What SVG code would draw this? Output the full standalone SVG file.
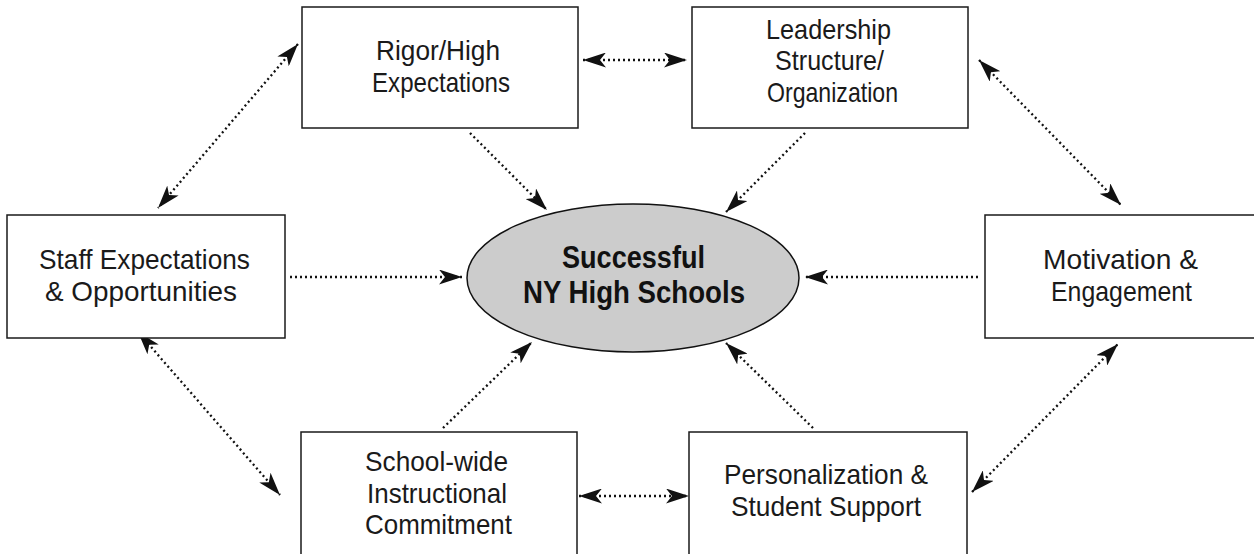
<svg xmlns="http://www.w3.org/2000/svg" width="1254" height="554" viewBox="0 0 1254 554">
  <style>
    .box { fill: #ffffff; stroke: #1a1a1a; stroke-width: 1.5; }
    .lbl { font-family: "Liberation Sans", Arial, sans-serif; font-size: 28px; fill: #1a1a1a; }
    .hub { font-family: "Liberation Sans", Arial, sans-serif; font-size: 31px; font-weight: bold; fill: #111111; }
    .link { fill: none; stroke: #111111; stroke-width: 2.3; stroke-dasharray: 2 3; }
  </style>
  <defs>
    <marker id="head" viewBox="0 0 23 15" refX="23" refY="7.5" markerWidth="23" markerHeight="15" markerUnits="userSpaceOnUse" orient="auto-start-reverse">
      <path d="M0,0 L23,7.5 L0,15 L6,7.5 Z" fill="#111111"/>
    </marker>
  </defs>

  <rect width="1254" height="554" fill="#ffffff"/>

  <g id="connectors">
    <!-- two-way links between neighbouring factors -->
    <line class="link" x1="583" y1="60" x2="687" y2="60" marker-start="url(#head)" marker-end="url(#head)"/>
    <line class="link" x1="579" y1="496" x2="689" y2="496" marker-start="url(#head)" marker-end="url(#head)"/>
    <line class="link" x1="298" y1="44" x2="158" y2="208" marker-start="url(#head)" marker-end="url(#head)"/>
    <line class="link" x1="979" y1="60" x2="1121" y2="205" marker-start="url(#head)" marker-end="url(#head)"/>
    <line class="link" x1="138" y1="332" x2="280" y2="495" marker-start="url(#head)" marker-end="url(#head)"/>
    <line class="link" x1="972" y1="492" x2="1118" y2="344" marker-start="url(#head)" marker-end="url(#head)"/>
    <!-- factors feeding the centre -->
    <line class="link" x1="470" y1="133" x2="547" y2="210" marker-end="url(#head)"/>
    <line class="link" x1="805" y1="133" x2="726" y2="212" marker-end="url(#head)"/>
    <line class="link" x1="290" y1="277" x2="462" y2="277" marker-end="url(#head)"/>
    <line class="link" x1="978" y1="277" x2="805" y2="277" marker-end="url(#head)"/>
    <line class="link" x1="443" y1="428" x2="532" y2="342" marker-end="url(#head)"/>
    <line class="link" x1="813" y1="428" x2="726" y2="343" marker-end="url(#head)"/>
  </g>

  <g id="hub">
    <ellipse cx="633" cy="278" rx="166" ry="74" fill="#cccccc" stroke="#111111" stroke-width="1.5"/>
    <text class="hub" x="562" y="268" textLength="143" lengthAdjust="spacingAndGlyphs">Successful</text>
    <text class="hub" x="523" y="303" textLength="222" lengthAdjust="spacingAndGlyphs">NY High Schools</text>
  </g>

  <g id="rigor">
    <rect class="box" x="302" y="7" width="276" height="121"/>
    <text class="lbl" x="376" y="60" textLength="124" lengthAdjust="spacingAndGlyphs">Rigor/High</text>
    <text class="lbl" x="372" y="92" textLength="138" lengthAdjust="spacingAndGlyphs">Expectations</text>
  </g>

  <g id="leadership">
    <rect class="box" x="692" y="7" width="276" height="121"/>
    <text class="lbl" x="766" y="38.5" textLength="125" lengthAdjust="spacingAndGlyphs">Leadership</text>
    <text class="lbl" x="775" y="70" textLength="109" lengthAdjust="spacingAndGlyphs">Structure/</text>
    <text class="lbl" x="767" y="101.5" textLength="131" lengthAdjust="spacingAndGlyphs">Organization</text>
  </g>

  <g id="staff">
    <rect class="box" x="7" y="215" width="278" height="123"/>
    <text class="lbl" x="39" y="269" textLength="211" lengthAdjust="spacingAndGlyphs">Staff Expectations</text>
    <text class="lbl" x="45" y="300.5" textLength="192" lengthAdjust="spacingAndGlyphs">&amp; Opportunities</text>
  </g>

  <g id="motivation">
    <rect class="box" x="985" y="215" width="280" height="123"/>
    <text class="lbl" x="1043" y="269" textLength="155" lengthAdjust="spacingAndGlyphs">Motivation &amp;</text>
    <text class="lbl" x="1051" y="300.5" textLength="141" lengthAdjust="spacingAndGlyphs">Engagement</text>
  </g>

  <g id="schoolwide">
    <rect class="box" x="301" y="432" width="276" height="140"/>
    <text class="lbl" x="365" y="471" textLength="143" lengthAdjust="spacingAndGlyphs">School-wide</text>
    <text class="lbl" x="367" y="502.5" textLength="140" lengthAdjust="spacingAndGlyphs">Instructional</text>
    <text class="lbl" x="365" y="534" textLength="147" lengthAdjust="spacingAndGlyphs">Commitment</text>
  </g>

  <g id="personalization">
    <rect class="box" x="689" y="432" width="278" height="140"/>
    <text class="lbl" x="724" y="484" textLength="204" lengthAdjust="spacingAndGlyphs">Personalization &amp;</text>
    <text class="lbl" x="731" y="515.5" textLength="190" lengthAdjust="spacingAndGlyphs">Student Support</text>
  </g>
</svg>
